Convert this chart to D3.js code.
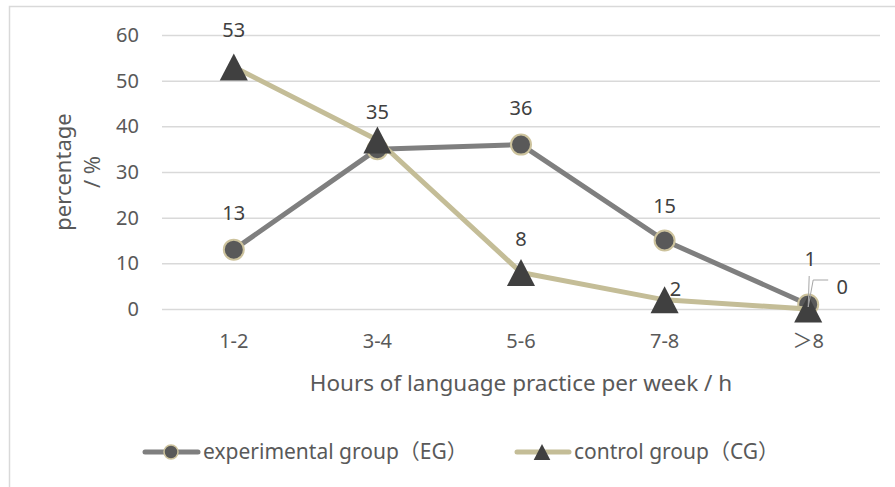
<!DOCTYPE html>
<html><head><meta charset="utf-8">
<script src="https://cdn.jsdelivr.net/npm/d3@7"></script>
<style>
html,body{margin:0;padding:0;background:#fff;}
svg text{font-family:"Noto Sans","Noto Sans CJK SC",sans-serif;}
</style></head>
<body>
<svg id="chart" width="895" height="487"></svg>
<script>
const categories = ["1-2", "3-4", "5-6", "7-8", "＞8"];
const egValues = [13, 35, 36, 15, 1];
const cgValues = [53, 37, 8, 2, 0];
const yTicks = [0, 10, 20, 30, 40, 50, 60];
const seriesNames = ["experimental group（EG）", "control group（CG）"];
const xTitle = "Hours of language practice per week / h";
const yTitleLines = ["percentage", "/ %"];
const cgLabelVisible = [true, false, true, true, true];

const svg = d3.select("#chart");
const W = 895, H = 487;
const plot = {left: 162, right: 880, top: 35, bottom: 309};

const x = d3.scaleBand().domain(categories).range([plot.left, plot.right]);
const cx = c => x(c) + x.bandwidth() / 2;
const y = d3.scaleLinear().domain([0, 60]).range([plot.bottom, plot.top]);

// border
svg.append("path").attr("d", `M9.5,${H} L9.5,6.5 L${W},6.5`)
  .attr("fill", "none").attr("stroke", "#d9d9d9").attr("stroke-width", 1.5);

// gridlines + y tick labels
const yAxis = d3.axisLeft(y).tickValues(yTicks).tickSize(-(plot.right - plot.left)).tickPadding(23);
const gy = svg.append("g").attr("transform", `translate(${plot.left},0)`).call(yAxis);
gy.select(".domain").remove();
gy.selectAll(".tick line").attr("stroke", "#d9d9d9").attr("stroke-width", 1.5);
gy.selectAll(".tick text").attr("fill", "#595959").attr("font-size", 20);

// x axis labels
const xAxis = d3.axisBottom(x).tickSize(0).tickPadding(25);
const gx = svg.append("g").attr("transform", `translate(0,${plot.bottom})`).call(xAxis);
gx.select(".domain").remove();
gx.selectAll(".tick text").attr("fill", "#595959").attr("font-size", 20);

// titles
svg.append("text").attr("x", (plot.left + plot.right) / 2).attr("y", 391)
  .attr("text-anchor", "middle").attr("fill", "#595959").attr("font-size", 22.5).text(xTitle);
const yt = svg.append("text").attr("transform", "translate(63,172) rotate(-90)")
  .attr("text-anchor", "middle").attr("fill", "#595959").attr("font-size", 22);
yTitleLines.forEach((t, i) => yt.append("tspan").attr("x", 0).attr("y", i === 0 ? 8 : 37).text(t));

const EGC = "#7f7f7f", CGC = "#c4bd97", MARK = "#595959", TRI = "#404040";
const line = d3.line().x(d => cx(d.c)).y(d => y(d.v));
const eg = categories.map((c, i) => ({c, v: egValues[i]}));
const cg = categories.map((c, i) => ({c, v: cgValues[i]}));
const tri = s => `M0,${-s/2} L${s*0.52},${s/2} L${-s*0.52},${s/2} Z`;

svg.append("path").datum(eg).attr("d", line).attr("fill", "none")
  .attr("stroke", EGC).attr("stroke-width", 5).attr("stroke-linejoin", "round");
svg.selectAll(".egm").data(eg).join("circle").attr("class", "egm")
  .attr("cx", d => cx(d.c)).attr("cy", d => y(d.v)).attr("r", 10)
  .attr("fill", MARK).attr("stroke", "#cdc39d").attr("stroke-width", 2);
svg.append("path").datum(cg).attr("d", line).attr("fill", "none")
  .attr("stroke", CGC).attr("stroke-width", 5).attr("stroke-linejoin", "round");
svg.selectAll(".cgm").data(cg).join("path").attr("class", "cgm")
  .attr("transform", d => `translate(${cx(d.c)},${y(d.v)})`).attr("d", tri(27))
  .attr("fill", TRI);

// leader lines for crowded last labels
const lastC = categories[categories.length - 1];
const lx = cx(lastC), ly = y(0) - 2;
svg.append("path").attr("d", `M${lx},${ly} L${lx + 1},${ly - 31}`)
  .attr("stroke", "#a6a6a6").attr("stroke-width", 1).attr("fill", "none");
svg.append("path").attr("d", `M${lx},${ly} L${lx + 5},${ly - 27} L${lx + 20},${ly - 27}`)
  .attr("stroke", "#a6a6a6").attr("stroke-width", 1).attr("fill", "none");

// data labels
const egOff = [[0, -37], [0, -37], [0, -37], [0, -35], [2, -46]];
const cgOff = [[0, -37], [0, -37], [0, -34], [11, -11], [34, -22]];
svg.selectAll(".egl").data(eg).join("text").attr("class", "egl")
  .attr("x", (d, i) => cx(d.c) + egOff[i][0]).attr("y", (d, i) => y(d.v) + egOff[i][1])
  .attr("dy", "0.36em").attr("text-anchor", "middle").attr("fill", "#404040")
  .attr("font-size", 20).text(d => d.v);
svg.selectAll(".cgl").data(cg.filter((d, i) => cgLabelVisible[i])).join("text").attr("class", "cgl")
  .attr("x", d => cx(d.c) + cgOff[cgValues.indexOf(d.v)][0])
  .attr("y", d => y(d.v) + cgOff[cgValues.indexOf(d.v)][1])
  .attr("dy", "0.36em").attr("text-anchor", "middle").attr("fill", "#404040")
  .attr("font-size", 20).text(d => d.v);

// legend
const lg = svg.append("g").attr("transform", "translate(0,452)");
lg.append("line").attr("x1", 145).attr("x2", 198).attr("stroke", EGC).attr("stroke-width", 5).attr("stroke-linecap", "round");
lg.append("circle").attr("cx", 171).attr("r", 7).attr("fill", MARK).attr("stroke", "#cdc39d").attr("stroke-width", 1.5);
lg.append("text").attr("x", 203).attr("dy", "0.35em").attr("fill", "#595959").attr("font-size", 21).text(seriesNames[0]);
lg.append("line").attr("x1", 517).attr("x2", 569).attr("stroke", CGC).attr("stroke-width", 5).attr("stroke-linecap", "round");
lg.append("path").attr("transform", "translate(542,0)").attr("d", tri(16)).attr("fill", TRI);
lg.append("text").attr("x", 574).attr("dy", "0.35em").attr("fill", "#595959").attr("font-size", 21).text(seriesNames[1]);
</script>
</body></html>
